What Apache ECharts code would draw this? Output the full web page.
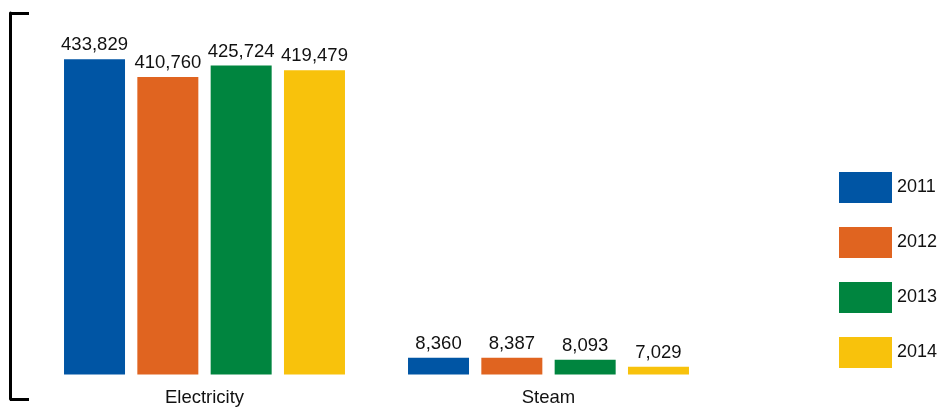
<!DOCTYPE html>
<html>
<head>
<meta charset="utf-8">
<script src="https://cdn.jsdelivr.net/npm/echarts@6/dist/echarts.min.js"></script>
<style>
html,body{margin:0;padding:0;background:#fff;}
#chart{width:941px;height:408px;}
</style>
</head>
<body>
<div id="chart"></div>
<script>
const years = ['2011', '2012', '2013', '2014'];
const categoriesA = ['Electricity'];
const categoriesB = ['Steam'];
const electricity = [433829, 410760, 425724, 419479];
const steam = [8360, 8387, 8093, 7029];
const colors = ['#0055A4', '#E06420', '#00853F', '#F8C20C'];

const FONT = '"Liberation Sans", Arial, sans-serif';
const fmt = v => v.toLocaleString('en-US');

const chart = echarts.init(document.getElementById('chart'));

const series = [];
years.forEach((y, i) => {
  [[electricity, 0], [steam, 1]].forEach(([arr, gi]) => {
    series.push({
      name: y,
      type: 'bar',
      xAxisIndex: gi,
      yAxisIndex: gi,
      data: [arr[i]],
      barWidth: 61,
      barGap: '20.2%',
      clip: true,
      itemStyle: { color: colors[i] },
      label: {
        show: true,
        position: 'top',
        distance: 4.5,
        fontFamily: FONT,
        fontSize: 18.5,
        color: '#111',
        formatter: p => fmt(p.value)
      }
    });
  });
});

chart.setOption({
  animation: false,
  backgroundColor: '#ffffff',
  color: colors,
  legend: {
    orient: 'vertical',
    left: 839,
    top: 172,
    padding: 0,
    itemWidth: 53,
    itemHeight: 31,
    itemGap: 24,
    icon: 'rect',
    data: years,
    textStyle: { fontFamily: FONT, fontSize: 18, color: '#111' }
  },
  grid: [
    { left: 10, width: 389, top: 8.5, bottom: 33.5 },
    { left: 399, width: 299, top: 8.5, bottom: 33.5 },
    { left: 10, width: 100, top: 13, bottom: 9 }
  ],
  xAxis: [
    { type: 'category', gridIndex: 0, data: categoriesA,
      axisLine: { show: false }, axisTick: { show: false },
      axisLabel: { fontFamily: FONT, fontSize: 18.5, color: '#111', margin: 14 } },
    { type: 'category', gridIndex: 1, data: categoriesB,
      axisLine: { show: false }, axisTick: { show: false },
      axisLabel: { fontFamily: FONT, fontSize: 18.5, color: '#111', margin: 14 } },
    { type: 'category', gridIndex: 2, data: [], show: false }
  ],
  yAxis: [
    { type: 'value', gridIndex: 0, min: 22500, max: 500000, show: false, splitLine: { show: false } },
    { type: 'value', gridIndex: 1, min: 5900, max: 60000, show: false, splitLine: { show: false } },
    { type: 'value', gridIndex: 2, min: 0, max: 1, interval: 1,
      axisLine: { show: true, lineStyle: { color: '#000', width: 3 } },
      axisTick: { show: true, inside: true, length: 19, lineStyle: { color: '#000', width: 3 } },
      axisLabel: { show: false }, splitLine: { show: false } }
  ],
  series: series
});
</script>
</body>
</html>
